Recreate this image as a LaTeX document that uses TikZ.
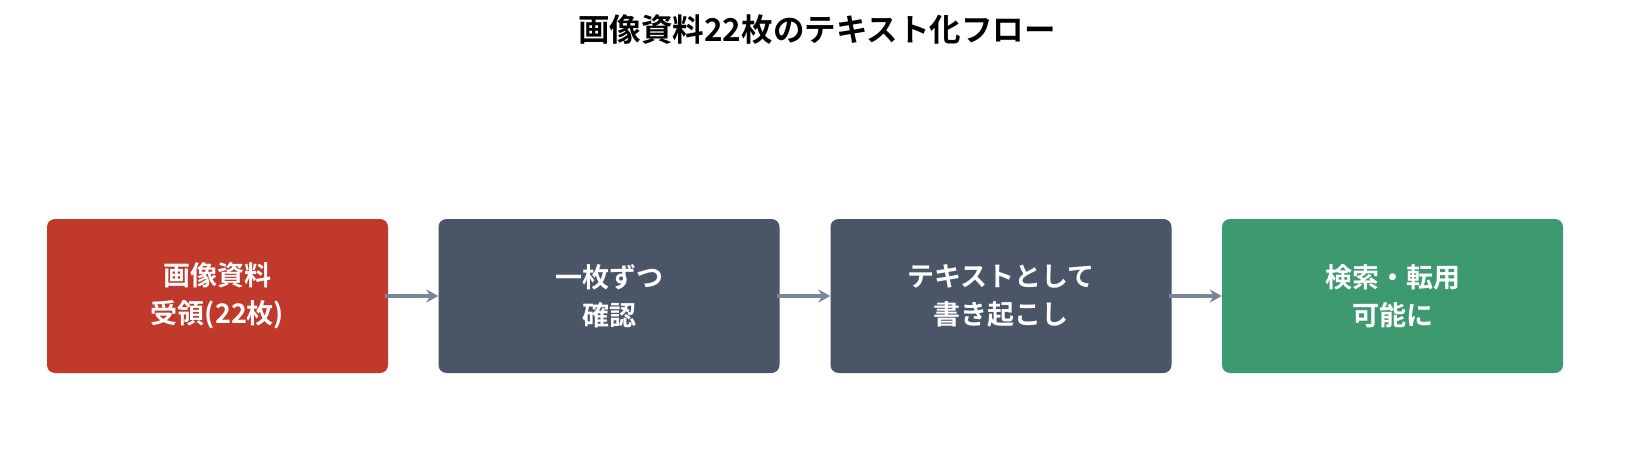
\documentclass[tikz,border=0pt]{standalone}
\usepackage{fontspec}
\setmainfont{Noto Sans CJK JP}[BoldFont={* Bold}]
\usetikzlibrary{arrows.meta}
\definecolor{cred}{HTML}{C0392B}
\definecolor{cslate}{HTML}{4A5568}
\definecolor{cgreen}{HTML}{3D9970}
\definecolor{carrow}{HTML}{7A8599}
\tikzset{
  stepbox/.style={rounded corners=8pt, minimum width=341pt, minimum height=154pt, inner sep=0pt,
    text=white, align=center, font=\fontsize{27}{37.5}\selectfont\bfseries},
  flow/.style={draw=carrow, line width=3.5pt, -{Stealth[length=12pt,width=13pt]}, shorten <=-3pt},
}
\begin{document}
\begin{tikzpicture}[x=1pt,y=-1pt]
\useasboundingbox (0,0) rectangle (1635,465);
\node (title) at (817,30) {\fontsize{31.5}{36}\selectfont\bfseries 画像資料22枚のテキスト化フロー};
\node[stepbox, fill=cred] (b1) at (217.5,296) {画像資料\\受領(22枚)};
\node[stepbox, fill=cslate] (b2) at (609,296) {一枚ずつ\\確認};
\node[stepbox, fill=cslate] (b3) at (1001,296) {テキストとして\\書き起こし};
\node[stepbox, fill=cgreen] (b4) at (1392.5,296) {検索・転用\\可能に};
\draw[flow] (b1) -- (b2);
\draw[flow] (b2) -- (b3);
\draw[flow] (b3) -- (b4);
\end{tikzpicture}
\end{document}
